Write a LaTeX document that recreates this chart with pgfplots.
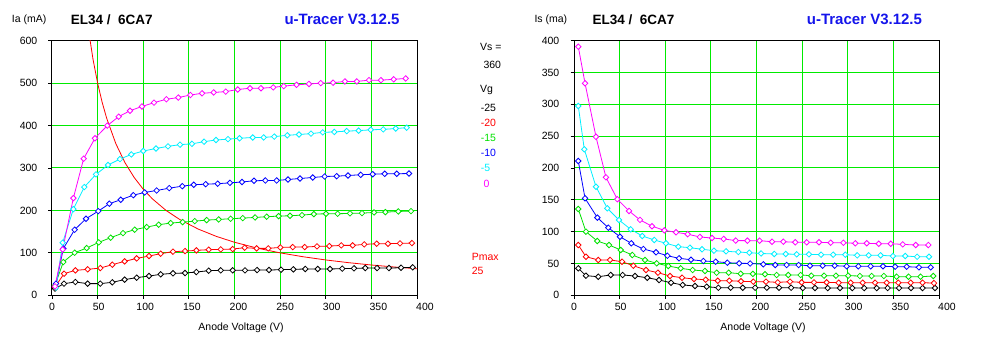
\documentclass[border=0pt]{standalone}
\usepackage{fontspec}
\setmainfont{Liberation Sans}
\usepackage{pgfplots}
\pgfplotsset{compat=1.18}
\definecolor{gridgreen}{RGB}{0,235,0}
\definecolor{cgreen}{RGB}{0,225,0}
\definecolor{ccyan}{RGB}{0,240,255}
\definecolor{cmag}{RGB}{255,0,255}
\definecolor{cblue}{RGB}{0,0,255}
\definecolor{cred}{RGB}{255,0,0}
\definecolor{tblue}{RGB}{20,20,235}
\newcommand{\lf}{\fontsize{10.5}{12}\selectfont}
\pgfplotsset{
 tracer/.style={
  scale only axis, width=365pt, height=254.6pt,
  xmin=0, xmax=400, xtick={0,50,...,400},
  grid=major, major grid style={draw=gridgreen, line width=1pt},
  axis line style={line width=1pt},
  every tick/.style={black, line width=0.8pt},
  major tick length=3.5pt, tick align=outside,
  xtick pos=bottom, ytick pos=left,
  tick label style={font=\lf, inner sep=0pt},
  /pgf/number format/assume math mode=true,
  xticklabel={\hspace*{\ticknum pt}\hspace*{\ticknum pt}\pgfmathprintnumber{\tick}},
  xticklabel style={yshift=-4pt},
  yticklabel style={xshift=-11pt},
  xlabel={Anode Voltage (V)},
  xlabel style={font=\lf, at={(axis description cs:0.518,-0.128)}, anchor=center},
  every axis plot/.append style={line width=0.8pt, mark=square*, mark size=1.95pt,
     mark options={rotate=45, fill=white, solid, line width=0.8pt}},
 }
}
\begin{document}
\begin{tikzpicture}
\useasboundingbox (0,0) rectangle (993pt,350pt);
% ---------------- left: Ia
\begin{axis}[tracer, at={(52pt,54.7pt)}, anchor=south west,
  ymin=0, ymax=600, ytick={0,100,...,600}]
\addplot[cred, line width=0.8pt, no markers] coordinates {
(40,625)(45,555.6)(50,500)(55,454.5)(60,416.7)(70,357.1)(80,312.5)(90,277.8)
(100,250)(110,227.3)(125,200)(140,178.6)(160,156.3)(180,138.9)(200,125)
(225,111.1)(250,100)(275,90.9)(300,83.3)(325,76.9)(350,71.4)(375,66.7)(400,62.5)};
\addplot[black] coordinates {
(3.3,15.7)(13.2,27.5)(25.6,31.3)(39.1,27.5)(52.9,27.5)(66.1,30.6)(79.6,37)
(92.8,41.6)(106.3,45.4)(119.1,49.4)(132.6,51.8)(145.8,52.5)(158.2,54.8)
(171.7,58)(184.9,58.8)(198,58.8)(211.5,58.8)(224.7,59.5)(237.8,59.5)(251,60.4)
(264.5,61.2)(277.6,62)(291.2,62)(304.7,62)(318.1,62.8)(331,63.5)(343.3,64.2)
(356.2,64.2)(369.3,64.2)(382.5,65)(395.3,65.9)};
\addplot[cred] coordinates {
(3.3,19.5)(13.2,51)(25.6,58.8)(39.1,61.2)(52.9,64.2)(66.1,72.2)(79.6,80)
(92.8,87)(106.3,92.5)(119.1,98.1)(132.6,102.8)(145.8,104.2)(158.2,105.9)
(171.7,107.5)(184.9,108.2)(198,109)(211.2,112.2)(224.3,110.6)(237,110.6)
(250.2,112.9)(263.8,113.6)(276.9,113.6)(290.4,115.3)(303.9,116)(317,117.6)
(329.5,117.6)(342.2,120)(355.8,121.6)(368.2,121.6)(381.4,122.4)(394.5,123.1)};
\addplot[cgreen] coordinates {
(3.3,23.5)(12.4,78.4)(24.8,100.4)(38,111.3)(51.2,124.7)(64.3,135.8)(77.8,146.6)
(90.6,154.6)(103.8,160.8)(116.9,166.4)(130.1,170.2)(143.2,172.5)(156.4,174.8)
(169.5,177.2)(182.7,178.8)(195.8,180.4)(209,181.9)(222.5,183.5)(235.3,185.2)
(248.4,186.6)(260.8,187.5)(274,189)(287,191.3)(300.3,192.2)(313,192.2)
(326.6,193)(339.7,193.6)(352.9,195.3)(365.3,196)(379.5,197.6)(393.4,198.4)};
\addplot[cblue] coordinates {
(4.4,27.5)(12.4,110)(24.8,154.6)(37.3,180.4)(50.7,198.4)(62.8,215.8)(75.3,225.2)
(89.1,236)(101.6,242.4)(114.7,247)(128.5,252.5)(142.8,257.2)(155.3,260.5)
(168.4,261.9)(181.6,263)(195,265)(208.2,267)(221.4,269.9)(233.8,270.6)
(246.2,270.6)(258.6,272.9)(271.8,275.3)(285.7,277.6)(298.8,280)(312,280.7)
(324.4,282.4)(338.3,284)(351.5,285.4)(364.6,286.4)(377.8,286.4)(391.2,287)};
\addplot[ccyan] coordinates {
(4.4,18)(11.7,124)(23.4,203)(35.4,255)(48.2,285)(61.4,307)(74.5,321)(86.9,332)
(100,340)(114,346)(127.1,351)(140.3,355)(153.4,357)(166.6,362)(179.7,366)
(192.9,368)(205.5,370)(220,372)(232,372)(243.6,374)(257.9,377)(270.7,379)
(283.8,381)(296.7,384)(309.4,385)(323,387)(336,388)(349.3,390)(363,391)
(376.7,393)(388.7,395)};
\addplot[cmag] coordinates {
(3.3,21)(11.7,108)(23.4,229)(34.7,322)(47.1,370)(60.6,400)(73.1,421)(85.5,435)
(98.6,445)(111.8,454)(125.3,462)(138.4,466)(151.6,472)(164.4,476)(177.2,478)
(190.4,480)(203.6,485)(217,488)(229,488)(242.5,490)(254,493)(268,496)
(281.6,498)(294.5,500)(308,501)(321,504)(334,504)(347.4,507)(360.5,507)
(374.5,509)(387.6,511)};
\end{axis}
% ---------------- right: Is
\begin{axis}[tracer, at={(574pt,54.7pt)}, anchor=south west,
  ymin=0, ymax=400, ytick={0,50,...,400}]
\addplot[black] coordinates {
(4.7,42.4)(13.1,30.8)(26.6,29.2)(40.2,31.9)(53.3,31.9)(66.8,30.3)(80.3,27.6)
(93.2,24)(106.3,19.8)(119.1,16.2)(132.6,14.6)(145.4,13.5)(158.2,11.9)
(171.7,11.9)(184.9,11.9)(198.5,11.9)(211.3,11.9)(224.7,11.9)(237.9,11.9)
(250.7,11.4)(264.1,11.4)(278,11.4)(291.5,11.4)(305,11.4)(318,11.4)(331.7,11.4)
(343.7,11.4)(356.2,11.4)(369.3,11.4)(382,11.4)(395.6,11.4)};
\addplot[cred] coordinates {
(4.7,79)(13.1,60.6)(26.6,55.5)(39.5,55.5)(52.6,52.8)(65,46.5)(78.9,39.7)
(92,35.5)(105.2,30.3)(118.4,27.6)(131.5,25.6)(144.3,24.5)(157.5,22.9)
(170.2,22.9)(183,22)(196.5,21.4)(210.4,21.4)(223.3,20.3)(236.7,21.4)
(249.5,20.3)(263,20.3)(276.9,20.3)(290,19.8)(303.2,19.8)(316.4,19.8)
(329.9,19.8)(342.7,19.8)(355.4,19.8)(369,19.8)(382,19.8)(394.5,19.2)};
\addplot[cgreen] coordinates {
(4.7,135.6)(13.1,100)(25.5,85.3)(38.4,79)(51.2,71.2)(63.9,63.3)(77.8,55.5)
(90.6,50.3)(103.3,46)(116.9,42.4)(130,39.7)(143.5,38.2)(156.3,35.5)
(169.5,35.5)(182.7,33.9)(196,33.7)(209.3,33)(222,31.9)(234.8,31.9)(248.3,31.9)
(260,30.8)(274,30.8)(287,30.8)(300.5,30.8)(313.3,30.3)(326.1,30.3)(339.6,30.3)
(353.5,29.2)(366.6,29.2)(379.8,29.2)(393.7,30.3)};
\addplot[cblue] coordinates {
(4.7,211)(12.1,152.4)(25.6,122)(37.6,106.2)(50.4,92)(62.8,81.7)(76,72.7)
(89.9,67.6)(102.3,62.2)(115.1,58.1)(128.2,55.9)(141.8,53.9)(155.3,52.8)
(168,51.2)(181,50.3)(193,50)(207.5,48.7)(220.6,47.6)(233,47.6)(246.2,47.6)
(258.6,46.5)(272.5,46.5)(285.7,46.5)(298.8,45.6)(311.6,45.6)(325.1,45.6)
(338.6,45.6)(352,45)(364.6,45)(378,44)(390.9,44)};
\addplot[ccyan] coordinates {
(4.7,297.4)(11.3,229.4)(24.1,170.6)(36.5,136.7)(49.3,118.3)(62.1,103.7)
(74.8,93.2)(88,86.9)(100.8,81.7)(114.3,76.4)(127.1,74.8)(140.3,72.3)
(153.4,70.1)(166.6,69.1)(180.1,68)(192.1,66.9)(205,65.7)(219.5,64.9)(232,64.9)
(244,64.4)(257.5,64.4)(270.7,63.8)(284,63.8)(297.3,63.8)(310.4,62.8)
(322.9,62.8)(336,62.8)(349.5,61.7)(363,61.7)(376,60.6)(389,60.6)};
\addplot[cmag] coordinates {
(4.7,390.6)(12.1,333)(24.1,249)(35,185.3)(47.5,151)(60.3,132.5)(72.3,118.5)
(85.5,108.5)(99,102)(111.8,99)(124.6,96)(138,91.6)(151.2,90)(164,88.5)
(177.2,86)(190,85.8)(203.4,85.8)(217,84.2)(229.4,84.2)(242.5,83.3)(255,83.3)
(268.5,83.3)(281.3,82.6)(295.2,82.6)(308.3,81.7)(320.8,81.7)(334,81)
(347.1,81)(360.3,80)(374.5,79)(388.3,79)};
\end{axis}
% ---------------- titles
\node[anchor=west, inner sep=0pt, font=\lf] at (11.7pt,330.5pt) {Ia (mA)};
\node[anchor=west, inner sep=0pt, font=\fontsize{13.5}{15}\selectfont\bfseries] at (70.7pt,329.8pt) {EL34 /\ \ 6CA7};
\node[anchor=west, inner sep=0pt, font=\fontsize{15}{17}\selectfont\bfseries, text=tblue] at (284.3pt,330.8pt) {u-Tracer V3.12.5};
\node[anchor=west, inner sep=0pt, font=\lf] at (534.3pt,330.5pt) {Is (ma)};
\node[anchor=west, inner sep=0pt, font=\fontsize{13.5}{15}\selectfont\bfseries] at (592.3pt,329.8pt) {EL34 /\ \ 6CA7};
\node[anchor=west, inner sep=0pt, font=\fontsize{15}{17}\selectfont\bfseries, text=tblue] at (806.7pt,330.8pt) {u-Tracer V3.12.5};
% ---------------- middle legend
\begin{scope}[every node/.style={anchor=west, inner sep=0pt, font=\lf}]
\node at (480pt,303pt) {Vs =};
\node at (483.3pt,285.5pt) {360};
\node at (480pt,260pt) {Vg};
\node[text=black] at (480.7pt,241.7pt) {-25};
\node[text=cred] at (480.7pt,227.3pt) {-20};
\node[text=cgreen] at (480.7pt,211.7pt) {-15};
\node[text=cblue] at (480.7pt,196.7pt) {-10};
\node[text=ccyan] at (480.7pt,181.7pt) {-5};
\node[text=cmag] at (483.3pt,166pt) {0};
\node[text=cred] at (471.7pt,93.3pt) {Pmax};
\node[text=cred] at (471.7pt,79.3pt) {25};
\end{scope}
\end{tikzpicture}
\end{document}
